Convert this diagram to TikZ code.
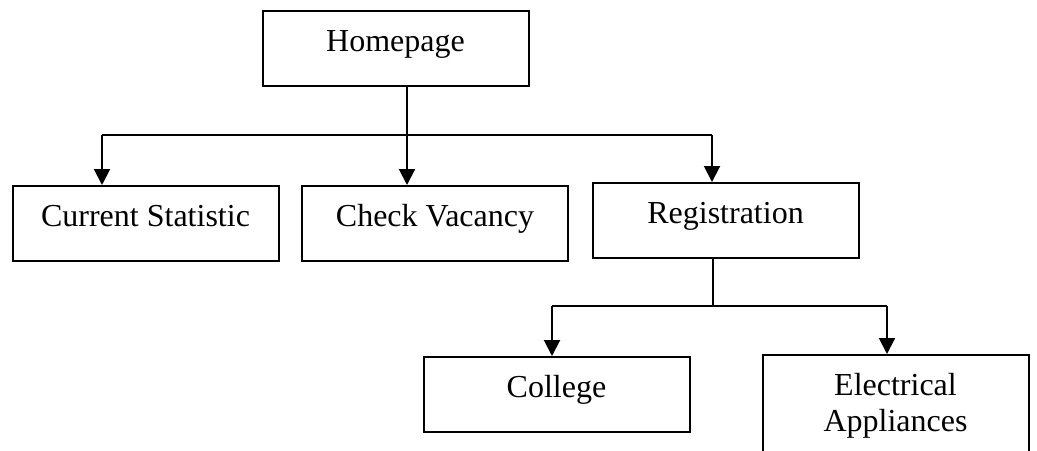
\documentclass[tikz,border=0pt]{standalone}
\usepackage{fontspec}
\setmainfont{Liberation Serif}
\usetikzlibrary{arrows.meta}
\begin{document}
\begin{tikzpicture}[x=0.5pt,y=-0.5pt,
  frame/.style={draw, line width=1pt, rectangle, minimum width=133pt,
    inner sep=0pt, anchor=north, font=\fontsize{16}{18}\selectfont},
  box/.style={frame, text height=20pt, text depth=17.5pt},
  wire/.style={line width=1pt},
  arr/.style={wire, -{Triangle[width=8pt,length=8pt]}}]
% page area (top-left origin, y grows downward)
\clip (0,0) rectangle (1037,450);

% boxes
\node[box] (home) at (395.5,10)  {Homepage};
\node[box] (stat) at (145.5,185) {Current Statistic};
\node[box] (vac)  at (435,185)   {Check Vacancy};
\node[box] (reg)  at (725.5,182) {Registration};
\node[box] (coll) at (556.5,356) {College};
\node[frame, minimum height=60pt] (elec) at (895.5,354) {};
\node[anchor=north, align=center, inner sep=0pt,
      font=\fontsize{16}{18}\selectfont] (eleclbl)
      at ([yshift=-9.5pt]elec.north) {Electrical\\Appliances};

% first level bus
\coordinate (busL) at (102,135);
\coordinate (busM) at (407,135);
\coordinate (busR) at (712,135);
\draw[wire] (home.south -| busM) -- (busM);
\draw[wire] (busL) -- (busR);
\draw[arr] (busL) -- (busL |- stat.north);
\draw[arr] (busM) -- (busM |- vac.north);
\draw[arr] (busR) -- (busR |- reg.north);

% second level bus
\coordinate (subM) at (713,306);
\coordinate (subL) at (552,306);
\coordinate (subR) at (887,306);
\draw[wire] (reg.south -| subM) -- (subM);
\draw[wire] (subL) -- (subR);
\draw[arr] (subL) -- (subL |- coll.north);
\draw[arr] (subR) -- (subR |- elec.north);
\end{tikzpicture}
\end{document}
